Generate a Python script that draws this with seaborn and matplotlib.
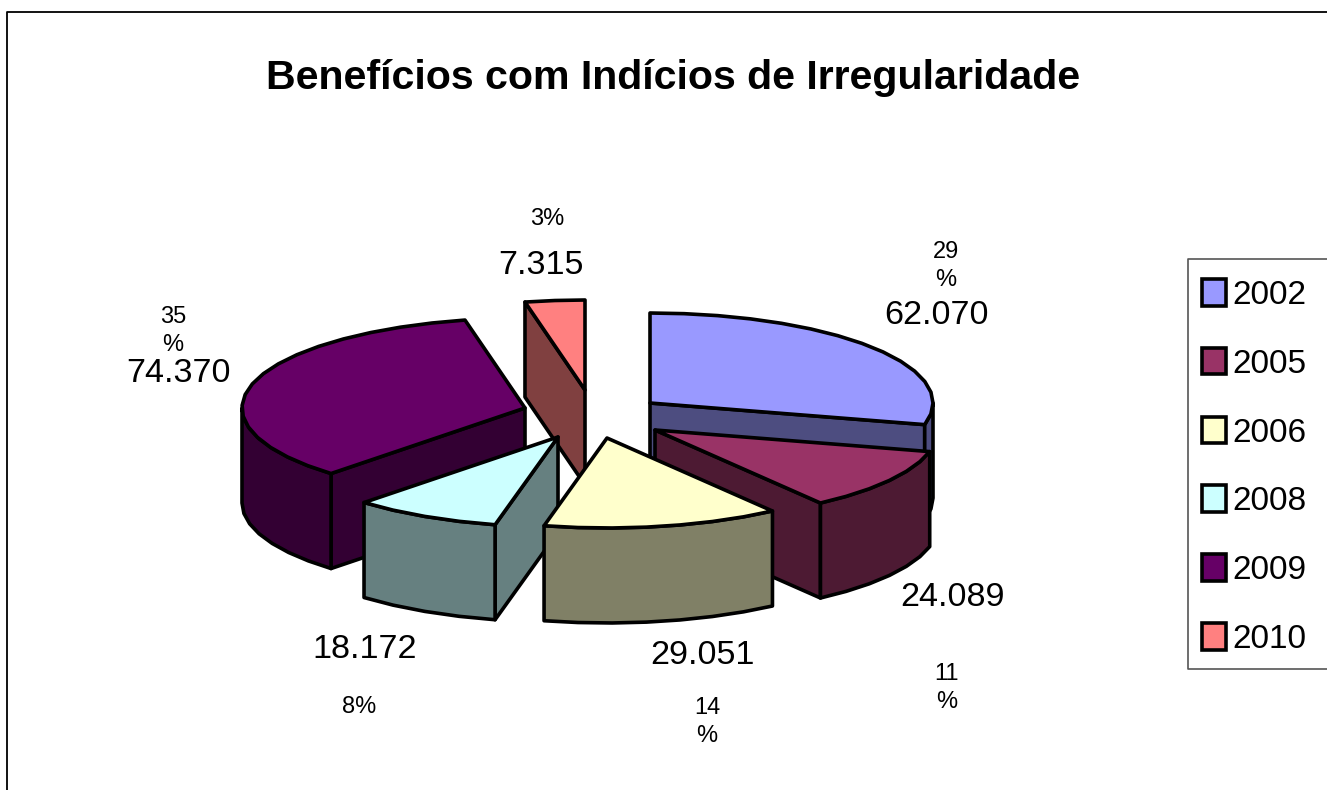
import numpy as np
import matplotlib
matplotlib.use("Agg")
import matplotlib.pyplot as plt
from matplotlib.patches import Patch
from matplotlib.lines import Line2D
import seaborn as sns

# ---- data ----
title = "Benefícios com Indícios de Irregularidade"
years = ["2002", "2005", "2006", "2008", "2009", "2010"]
values = [62070, 24089, 29051, 18172, 74370, 7315]
pct_labels = ["29\n%", "11\n%", "14\n%", "8%", "35\n%", "3%"]
colors = ["#9999FF", "#993366", "#FFFFCC", "#CCFFFF", "#660066", "#FF8080"]

# ---- layout (pixel coordinates of the 1327x790 canvas) ----
apex = [(650, 403), (655, 430), (607, 438), (558, 437), (525, 408), (585, 390)]
value_pos = [(936, 316), (953, 598), (702, 655), (365, 650), (178, 373), (541, 266)]
pct_pos = [(946, 266), (947, 688), (707, 722), (359, 707), (173, 331), (547, 219)]
draw_order = [5, 0, 4, 1, 3, 2]
RX, RY, DEPTH = 283, 90, 95
LW = 2.6

sns.set_theme(style="white", font="Liberation Sans")
palette = sns.color_palette(colors)
shades = [tuple(c * 0.5 for c in col) for col in palette]

fig = plt.figure(figsize=(13.27, 7.90), dpi=100)
ax = fig.add_axes([0, 0, 1, 1])
ax.set_xlim(0, 1327)
ax.set_ylim(790, 0)
ax.axis("off")

# outer chart frame (only left and top fall inside the picture)
ax.add_line(Line2D([7, 7, 1327], [790, 12, 12], color="black", lw=1.3))

fractions = np.array(values) / np.sum(values)
edges = np.concatenate([[0], np.cumsum(fractions)]) * 360


def arc(a0, a1):
    """Angles from a0 to a1, sampled coarsely as in the faceted original."""
    n = max(2, int(round((a1 - a0) / 7)) + 1)
    return np.radians(np.linspace(a0, a1, n))


def rim(cx, cy, th):
    return cx + RX * np.sin(th), cy - RY * np.cos(th)


def face(xs, ys, fc):
    ax.fill(xs, ys, facecolor=fc, edgecolor="black", lw=LW, joinstyle="round")


for i in draw_order:
    a0, a1 = edges[i], edges[i + 1]
    cx, cy = apex[i]
    # radial cut faces
    for ang, visible in ((a0, 180 < a0 < 360), (a1, 0 < a1 < 180)):
        if visible:
            t = np.radians(ang)
            x, y = rim(cx, cy, t)
            face([cx, x, x, cx], [cy, y, y + DEPTH, cy + DEPTH], shades[i])
    # outer wall (front half of the rim only)
    w0, w1 = max(a0, 90), min(a1, 270)
    if w1 > w0:
        x, y = rim(cx, cy, arc(w0, w1))
        face(np.r_[x, x[::-1]], np.r_[y, y[::-1] + DEPTH], shades[i])
    # top
    x, y = rim(cx, cy, arc(a0, a1))
    face(np.r_[cx, x], np.r_[cy, y], palette[i])

# labels
for v, (x, y) in zip(values, value_pos):
    ax.text(x, y, f"{v:,}".replace(",", "."), ha="center", va="center",
            fontsize=24.6, color="black")
for p, (x, y) in zip(pct_labels, pct_pos):
    ax.text(x, y, p, ha="center", va="center", fontsize=17, color="black",
            linespacing=1.4)

ax.text(673, 78, title, ha="center", va="center", fontsize=29.6,
        fontweight="bold", color="black")

# legend
ax.add_line(Line2D([1327, 1188, 1188, 1327], [259, 259, 669, 669], color="#555555", lw=1.2))
handles = [Patch(facecolor=c, edgecolor="black", lw=LW) for c in palette]
leg = ax.legend(handles, years, loc="upper left", frameon=False,
                bbox_to_anchor=(1202 / 1327, 1 - 279 / 790), borderaxespad=0, borderpad=0,
                prop={"size": 24}, labelspacing=1.11,
                handlelength=0.72, handleheight=0.85, handletextpad=0.2,
                labelcolor="black")

fig.savefig("out.png", dpi=100, facecolor="white")
